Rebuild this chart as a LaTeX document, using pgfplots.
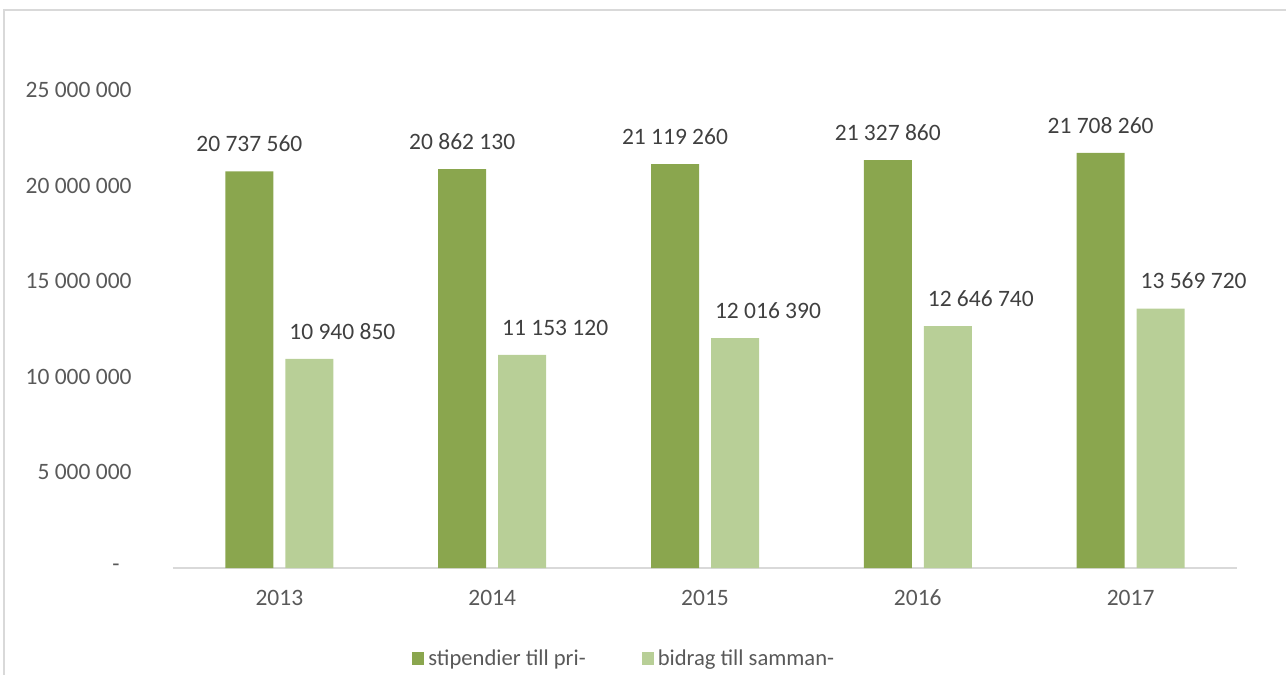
\documentclass[border=0pt]{standalone}
\usepackage{pgfplots}
\pgfplotsset{compat=1.18}
\usepackage{fontspec}
\setmainfont{Carlito}
\definecolor{dk}{HTML}{8AA64E}
\definecolor{lt}{HTML}{B8CF97}
\definecolor{tk}{HTML}{595959}
\definecolor{lb}{HTML}{404040}
\definecolor{fr}{HTML}{D9D9D9}
\begin{document}
\begin{tikzpicture}
\useasboundingbox (0pt,0pt) rectangle (643pt,337.5pt);
\draw[fr, line width=1pt] (2pt,-5pt) -- (2pt,332.5pt) -- (650pt,332.5pt);
\begin{axis}[
  at={(86.5pt,53.5pt)}, anchor=south west,
  scale only axis, width=532pt, height=239pt,
  ymin=0, ymax=25000000, xmin=-0.5, xmax=4.5,
  ybar=6pt, bar width=24pt,
  axis x line*=bottom, axis y line*=left,
  x axis line style={draw=fr, line width=1pt, -},
  y axis line style={draw=none},
  major tick length=0pt,
  scaled y ticks=false,
  xtick={0,1,2,3,4}, xticklabels={2013,2014,2015,2016,2017},
  ytick={0,5000000,10000000,15000000,20000000,25000000},
  yticklabels={{-\kern6pt\null},5 000 000,10 000 000,15 000 000,20 000 000,25 000 000},
  tick label style={font=\fontsize{11.75}{14}\selectfont, text=tk},
  yticklabel style={anchor=east, inner sep=0pt, xshift=-20.5pt},
  xticklabel style={anchor=north, inner sep=0pt, text height=7.6pt, text depth=0pt, yshift=-11pt},
  point meta=explicit symbolic,
  nodes near coords,
  nodes near coords style={font=\fontsize{11.75}{14}\selectfont, text=lb, anchor=south, inner sep=0pt, yshift=9.5pt},
  legend style={at={(0.2246,-0.19)}, anchor=west, draw=none, fill=none,
    legend columns=2, inner sep=0pt, font=\fontsize{11.3}{13}\selectfont, text=tk,
    /tikz/every even column/.append style={column sep=26pt}},
  legend image code/.code={\fill[#1] (0pt,-3.25pt) rectangle (6pt,3.25pt);},
]
\addplot[fill=dk, draw=none] coordinates {
  (0,20737560) [20 737 560]
  (1,20862130) [20 862 130]
  (2,21119260) [21 119 260]
  (3,21327860) [21 327 860]
  (4,21708260) [21 708 260]
};
\addplot[fill=lt, draw=none, every node near coord/.append style={xshift=16.5pt}] coordinates {
  (0,10940850) [10 940 850]
  (1,11153120) [11 153 120]
  (2,12016390) [12 016 390]
  (3,12646740) [12 646 740]
  (4,13569720) [13 569 720]
};
\legend{stipendier till pri-, bidrag till samman-}
\end{axis}
\end{tikzpicture}
\end{document}
